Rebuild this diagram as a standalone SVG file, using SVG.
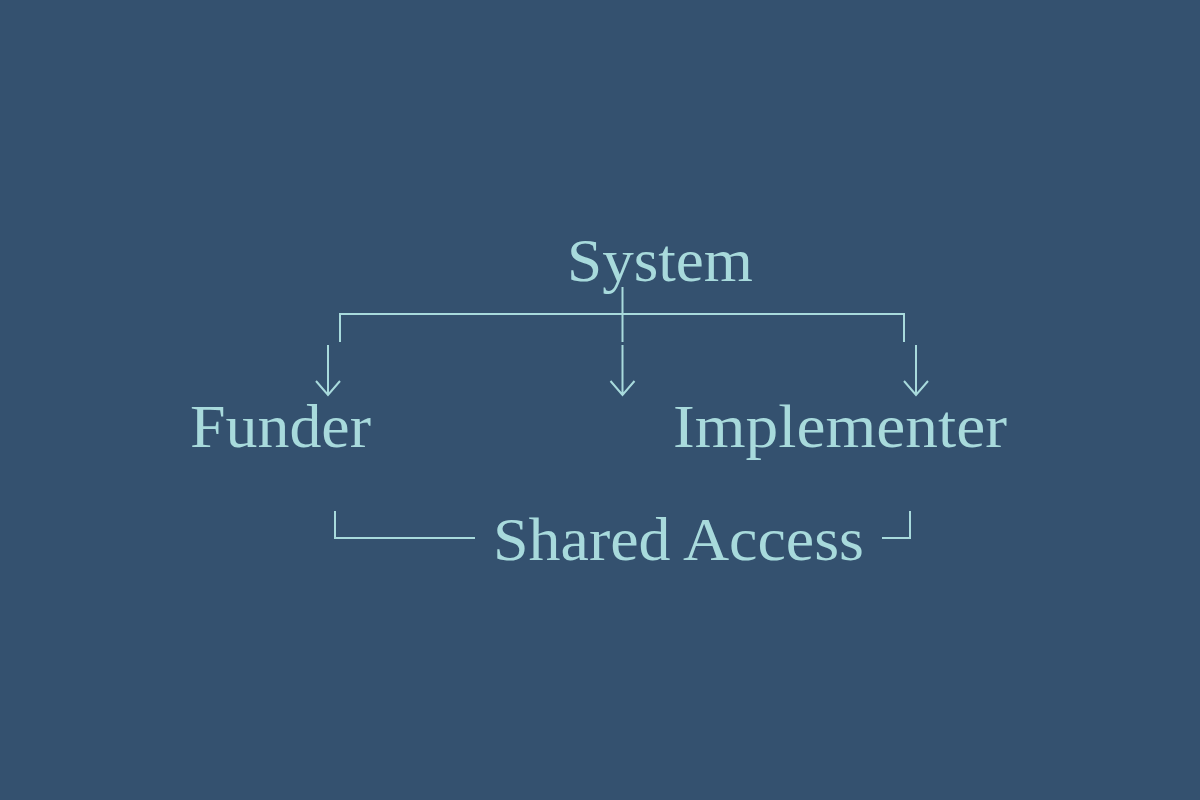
<svg xmlns="http://www.w3.org/2000/svg" width="1200" height="800" viewBox="0 0 1200 800">
<style>
.t{font-family:"Liberation Serif","DejaVu Serif",serif;font-size:61px;fill:#a8dadc}
.c{fill:none;stroke:#a8dadc;stroke-width:2}
</style>
<rect width="1200" height="800" fill="#34516f"/>
<g id="system"><text class="t" x="567" y="281" textLength="186" lengthAdjust="spacingAndGlyphs">System</text></g>
<g id="funder"><text class="t" x="190" y="447" textLength="181" lengthAdjust="spacingAndGlyphs">Funder</text></g>
<g id="implementer"><text class="t" x="673" y="447" textLength="334" lengthAdjust="spacingAndGlyphs">Implementer</text></g>
<g id="shared-access"><text class="t" x="493" y="560" textLength="371" lengthAdjust="spacingAndGlyphs">Shared Access</text></g>
<g id="connectors">
<path class="c" d="M622.5 287V342M340 342V314H904V342"/>
<path class="c" d="M328 345V394M316 381L328 395L340 381"/>
<path class="c" d="M622.5 345V394M610.5 381L622.5 395L634.5 381"/>
<path class="c" d="M916 345V394M904 381L916 395L928 381"/>
<path class="c" d="M335 511V538H475"/>
<path class="c" d="M882 538H910V511"/>
</g>
</svg>
